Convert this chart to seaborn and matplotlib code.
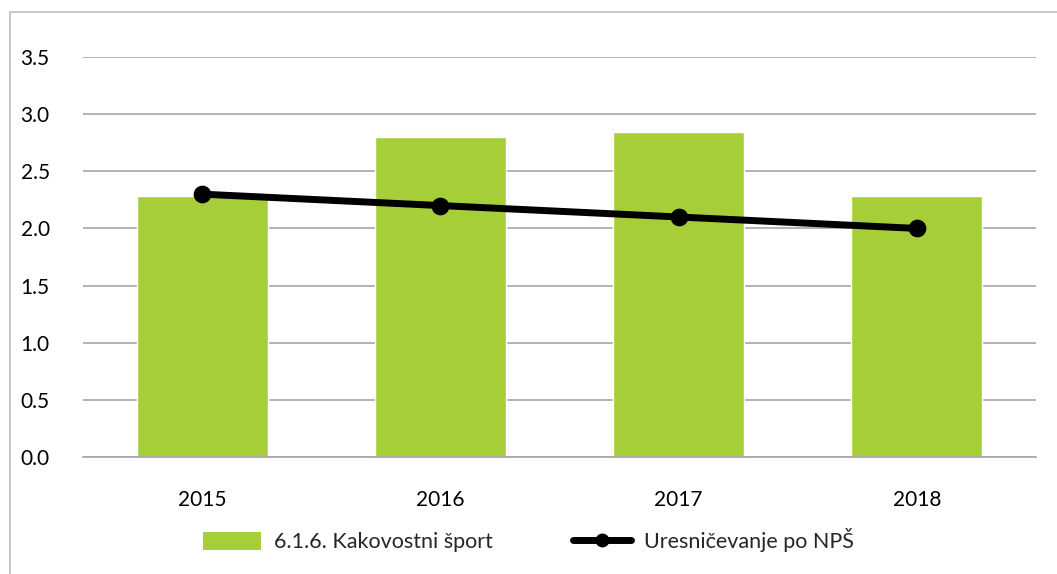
import numpy as np
import pandas as pd
import matplotlib
matplotlib.use('Agg')
import matplotlib.pyplot as plt
import seaborn as sns
from matplotlib.patches import Patch, Rectangle
from matplotlib.lines import Line2D

# Data
years = ['2015', '2016', '2017', '2018']
kakovostni_sport = [2.28, 2.80, 2.84, 2.28]
uresnicevanje = [2.3, 2.2, 2.1, 2.0]
bar_label = '6.1.6. Kakovostni šport'
line_label = 'Uresničevanje po NPŠ'

df = pd.DataFrame({'Leto': years, 'Sport': kakovostni_sport, 'NPS': uresnicevanje})

sns.set_style('white')
plt.rcParams['font.family'] = ['Lato', 'DejaVu Sans']

green = '#A6CE39'
grid_grey = '#A6A6A6'

fig = plt.figure(figsize=(10.57, 5.74), dpi=100)
ax = fig.add_axes([83 / 1057, 117 / 574, (1036 - 83) / 1057, (457 - 57) / 574])

# outer frame of the chart
fig.patches.append(Rectangle((10 / 1057, -0.05), 1.1, (574 - 12) / 574 + 0.05,
                             transform=fig.transFigure, fill=False,
                             edgecolor='#BFBFBF', linewidth=1.2))

ax.set_axisbelow(True)
ax.yaxis.grid(True, color=grid_grey, linewidth=1.2)

sns.barplot(data=df, x='Leto', y='Sport', color=green, saturation=1, width=0.55, ax=ax, zorder=2)
sns.pointplot(data=df, x='Leto', y='NPS', color='black', markers='o', markersize=9,
              linewidth=5, ax=ax, zorder=3)

ax.set_ylim(0, 3.5)
ax.set_xlim(-0.5, 3.5)
ax.set_yticks(np.arange(0, 3.51, 0.5))
ax.set_yticklabels([f'{v:.1f}' for v in np.arange(0, 3.51, 0.5)])
ax.set_xlabel('')
ax.set_ylabel('')

for side in ['top', 'right', 'left']:
    ax.spines[side].set_visible(False)
ax.spines['bottom'].set_color(grid_grey)
ax.spines['bottom'].set_linewidth(1.2)

ax.tick_params(axis='y', length=0, pad=24, labelsize=15, labelcolor='black')
ax.tick_params(axis='x', which='major', length=0, pad=24, labelsize=15, labelcolor='black')
ax.set_xticks([-0.5, 0.5, 1.5, 2.5, 3.5], minor=True)
ax.tick_params(axis='x', which='minor', length=7, width=1.2, color=grid_grey, direction='out')

handles = [Patch(facecolor=green, edgecolor='none'),
           Line2D([0], [0], color='black', linewidth=5, marker='o', markersize=9,
                  solid_capstyle='round')]
fig.legend(handles, [bar_label, line_label], loc='center', bbox_to_anchor=(0.5, 1 - 540 / 574),
           ncol=2, frameon=False, fontsize=15.5, handlelength=2.7, handleheight=0.9,
           columnspacing=3.7, handletextpad=0.6)

fig.savefig('out.png', dpi=100)
